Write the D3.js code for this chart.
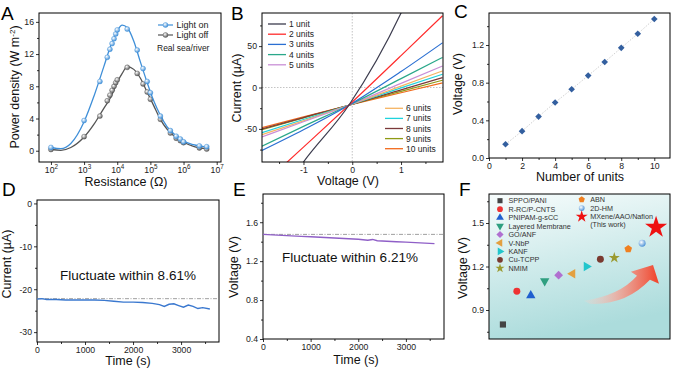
<!DOCTYPE html>
<html>
<head>
<meta charset="utf-8">
<script src="https://cdn.jsdelivr.net/npm/d3@7"></script>
<style>
body { margin: 0; background: #fff; }
svg { display: block; font-family: "Liberation Sans", Arial, sans-serif; }
</style>
</head>
<body>
<div id="chart"></div>
<script>
// ---- A: power density vs load resistance
var resistA = [1e2, 1e3, 3e3, 5e3, 6e3, 7e3, 8e3, 9e3, 1e4, 2e4, 4e4, 6e4, 8e4, 1e5, 2e5, 4e5, 6e5, 8e5, 1e6, 3e6, 5e6];
var powerOn = [0.41, 3.75, 8.6, 11.6, 12.6, 13.3, 13.9, 14.5, 15.0, 15.1, 12.5, 10.2, 8.6, 7.2, 4.3, 2.5, 1.8, 1.45, 1.1, 0.6, 0.5];
var powerOff = [0.15, 1.75, 4.3, 6.2, 6.9, 7.5, 8.0, 8.45, 8.8, 10.35, 9.6, 8.3, 7.3, 6.4, 3.9, 2.2, 1.55, 1.25, 1.0, 0.35, 0.2];
var fitLogR = [2, 2.3, 2.6, 3, 3.3, 3.6, 3.8, 4, 4.15, 4.3, 4.5, 4.7, 4.9, 5.1, 5.3, 5.5, 5.8, 6, 6.3, 6.7];
var fitOn = [0.4, 0.25, 0.9, 3.6, 6.8, 10.5, 13.0, 14.9, 15.6, 15.3, 13.6, 11.0, 8.5, 6.2, 4.4, 3.0, 1.8, 1.2, 0.75, 0.45];
var fitOff = [0.15, 0.05, 0.4, 1.7, 3.3, 5.3, 6.6, 8.5, 9.6, 10.45, 10.1, 9.0, 7.3, 5.6, 3.9, 2.7, 1.55, 1.05, 0.55, 0.25];
var legendA = ["Light on", "Light off"];

// ---- B: I-V curves of stacked units
var unitsB = ["1 unit", "2 units", "3 units", "4 units", "5 units", "6 units", "7 units", "8 units", "9 units", "10 units"];
var colorsB = ["#3c3c4e", "#ff2b2b", "#2a6fd2", "#2aa88a", "#c98fd6", "#f5b463", "#1fd3dc", "#7b3a3a", "#8f9a14", "#f26a1c"];
var voltB = [-1.85, -1, -0.07, 1, 1.85];
var currentB = [
  [-165, -90, -21.4, 90, 210],
  [-118, -72, -21.4, 38.5, 86.7],
  [-76, -51, -21.4, 19.3, 54],
  [-71, -47, -21.4, 10.7, 36.3],
  [-59.7, -41.4, -21.4, 5, 26],
  [-57, -40.4, -21.4, 1.7, 20],
  [-54.5, -38.7, -21.4, -0.5, 16],
  [-50, -36.3, -21.4, -2.8, 12],
  [-51, -36.8, -21.4, -4.6, 8.8],
  [-48.4, -35.5, -21.4, -6.3, 5.6]
];

// ---- C: open-circuit voltage vs number of units
var unitsC = [1, 2, 3, 4, 5, 6, 7, 8, 9, 10];
var voltC = [0.146, 0.285, 0.44, 0.59, 0.73, 0.875, 1.02, 1.17, 1.32, 1.476];

// ---- D: current stability
var timeD = [0, 100, 200, 400, 600, 800, 1000, 1200, 1400, 1600, 1800, 2000, 2200, 2400, 2550, 2650, 2750, 2850, 2950, 3050, 3150, 3250, 3350, 3450, 3600];
var currD = [-22.3, -22.2, -22.4, -22.4, -22.5, -22.5, -22.5, -22.5, -22.6, -22.8, -23.0, -23.0, -23.1, -23.3, -23.6, -24.0, -23.5, -23.4, -23.8, -24.2, -23.7, -24.0, -24.5, -24.3, -24.6];
var refD = -22.2;

// ---- E: voltage stability
var timeE = [0, 200, 400, 600, 800, 1000, 1200, 1400, 1600, 1800, 2000, 2200, 2300, 2400, 2600, 2800, 3000, 3200, 3400, 3600];
var voltE = [1.475, 1.47, 1.465, 1.46, 1.455, 1.45, 1.445, 1.44, 1.435, 1.43, 1.425, 1.415, 1.423, 1.41, 1.405, 1.40, 1.395, 1.39, 1.385, 1.38];
var refE = 1.475;

// ---- F: comparison with reported devices
var labelsF = ["SPPO/PANI", "R-RC/P-CNTS", "PNIPAM-g-sCC", "Layered Membrane", "GO/ANF", "V-NbP", "KANF", "Cu-TCPP", "NMIM", "ABN", "2D-HM", "MXene/AAO/Nafion"];
var voltF = [0.80, 1.03, 1.00, 1.10, 1.14, 1.15, 1.20, 1.25, 1.26, 1.32, 1.36, 1.47];
var colorsF = ["#444444", "#ee3333", "#1f5fcf", "#2f9f80", "#b070d0", "#e3a040", "#22c6cc", "#7a3a30", "#9a9a30", "#f08020", "#5ea2e2", "#ee1111"];
var shapesF = ["square", "circle", "up", "down", "diamond", "left", "right", "circle", "star", "pentagon", "sphere", "star"];

var W = 673, H = 371;
var svg = d3.select("#chart").append("svg").attr("width", W).attr("height", H);
var defs = svg.append("defs");
var plain = function (d) { return String(d); };

function sphereGrad(id, c) {
    var g = defs.append("radialGradient").attr("id", id).attr("cx", "38%").attr("cy", "35%").attr("r", "65%");
    g.append("stop").attr("offset", "0%").attr("stop-color", "#fff");
    g.append("stop").attr("offset", "100%").attr("stop-color", c);
}
sphereGrad("sphOn", "#3f8fd8");
sphereGrad("sphOff", "#5a5a5a");
sphereGrad("sphHM", "#4f93d8");

function clean(sel) {
    sel.select(".domain").remove();
    sel.selectAll("line").attr("stroke", "#000").attr("stroke-width", 0.8);
    sel.selectAll("text").attr("font-size", 8.7).attr("fill", "#222").attr("font-family", null);
}

// frame + outward ticks, Origin style
function axes(g, x, y, o) {
    var xl = x.range()[0], xr = x.range()[1], yb = y.range()[0], yt = y.range()[1];
    if (o.xMinor) g.append("g").attr("transform", "translate(0," + yb + ")")
        .call(d3.axisBottom(x).tickValues(o.xMinor).tickSize(2).tickFormat("")).call(clean);
    if (o.xTicks) g.append("g").attr("class", "xax").attr("transform", "translate(0," + yb + ")")
        .call(d3.axisBottom(x).tickValues(o.xTicks).tickSize(3).tickPadding(o.xPad || 1.5).tickFormat(o.xFmt || plain)).call(clean);
    if (o.yMinor) g.append("g").attr("transform", "translate(" + xl + ",0)")
        .call(d3.axisLeft(y).tickValues(o.yMinor).tickSize(2).tickFormat("")).call(clean);
    g.append("g").attr("transform", "translate(" + xl + ",0)")
        .call(d3.axisLeft(y).tickValues(o.yTicks).tickSize(3).tickPadding(2).tickFormat(o.yFmt || plain)).call(clean);
    g.append("rect").attr("x", xl).attr("y", yt).attr("width", xr - xl).attr("height", yb - yt)
        .attr("fill", "none").attr("stroke", "#000").attr("stroke-width", 1);
}

function yTitle(x, y, txt) {
    return svg.append("text").attr("transform", "translate(" + x + "," + y + ")rotate(-90)")
        .attr("text-anchor", "middle").attr("font-size", 12.5).attr("fill", "#111").text(txt);
}
function xTitle(x, y, txt) {
    return svg.append("text").attr("x", x).attr("y", y).attr("text-anchor", "middle")
        .attr("font-size", 12.5).attr("fill", "#111").text(txt);
}
function panelLabel(x, y, txt) {
    svg.append("text").attr("x", x).attr("y", y).attr("font-size", 19).attr("fill", "#000").text(txt);
}

// ================= A =================
(function () {
    var x = d3.scaleLog().domain([Math.pow(10, 1.64), Math.pow(10, 7.13)]).range([39, 221]);
    var y = d3.scaleLinear().domain([-1.4, 17.1]).range([162, 13]);
    var g = svg.append("g");
    axes(g, x, y, { xTicks: [1e2, 1e3, 1e4, 1e5, 1e6, 1e7], xPad: 1.5, yTicks: [0, 4, 8, 12, 16], yMinor: [2, 6, 10, 14],
        xFmt: function () { return ""; } });
    g.select(".xax").selectAll(".tick text").each(function (d) {
        var t = d3.select(this).text("10");
        t.append("tspan").attr("dy", -3.5).attr("font-size", 6.3).text(Math.round(Math.log10(d)));
    });
    var line = d3.line().x(function (d) { return x(Math.pow(10, d[0])); }).y(function (d) { return y(d[1]); }).curve(d3.curveMonotoneX);
    var series = [[fitOn, powerOn, "#3f8fd8", "url(#sphOn)"], [fitOff, powerOff, "#555", "url(#sphOff)"]];
    series.slice().reverse().forEach(function (s) {
        g.append("path").attr("d", line(fitLogR.map(function (r, i) { return [r, s[0][i]]; })))
            .attr("fill", "none").attr("stroke", s[2]).attr("stroke-width", 1.3);
        g.selectAll(null).data(resistA).enter().append("circle")
            .attr("cx", function (d) { return x(d); }).attr("cy", function (d, i) { return y(s[1][i]); })
            .attr("r", 2.5).attr("fill", s[3]).attr("stroke", s[2]).attr("stroke-width", 0.4);
    });
    legendA.forEach(function (t, i) {
        var yy = 25 + i * 10;
        g.append("line").attr("x1", 158).attr("x2", 173).attr("y1", yy).attr("y2", yy).attr("stroke", series[i][2]).attr("stroke-width", 1.2);
        g.append("circle").attr("cx", 165.5).attr("cy", yy).attr("r", 2.5).attr("fill", series[i][3]).attr("stroke", series[i][2]).attr("stroke-width", 0.4);
        g.append("text").attr("x", 176.5).attr("y", yy + 3.2).attr("font-size", 9).attr("fill", "#222").text(t);
    });
    g.append("text").attr("x", 157).attr("y", 50.5).attr("font-size", 8.5).attr("fill", "#222").text("Real sea/river");
    var yt = yTitle(19, 87, "Power density (W m");
    yt.append("tspan").attr("dy", -4).attr("font-size", 8).text("-2");
    yt.append("tspan").attr("dy", 4).text(")");
    xTitle(126, 186, "Resistance (\u03A9)");
    panelLabel(1, 20, "A");
})();

// ================= B =================
(function () {
    var x = d3.scaleLinear().domain([-1.85, 1.86]).range([262, 443]);
    var y = d3.scaleLinear().domain([-90, 90]).range([162, 13]);
    var g = svg.append("g");
    defs.append("clipPath").attr("id", "clipB").append("rect").attr("x", 262).attr("y", 13).attr("width", 181).attr("height", 149);
    g.append("line").attr("x1", x(0)).attr("x2", x(0)).attr("y1", 13).attr("y2", 162).attr("stroke", "#aaa").attr("stroke-width", 0.7).attr("stroke-dasharray", "1.5,1.5");
    g.append("line").attr("x1", 262).attr("x2", 443).attr("y1", y(0)).attr("y2", y(0)).attr("stroke", "#aaa").attr("stroke-width", 0.7).attr("stroke-dasharray", "1.5,1.5");
    var line = d3.line().x(function (d, i) { return x(voltB[i]); }).y(function (d) { return y(d); }).curve(d3.curveMonotoneX);
    var lg = g.append("g").attr("clip-path", "url(#clipB)");
    currentB.slice().reverse().forEach(function (c, k) {
        var i = currentB.length - 1 - k;
        lg.append("path").attr("d", line(c)).attr("fill", "none").attr("stroke", colorsB[i]).attr("stroke-width", 1.2);
    });
    axes(g, x, y, { xTicks: [-1, 0, 1], xMinor: [-1.5, -0.5, 0.5, 1.5], yTicks: [-50, 0, 50], yMinor: [-75, -25, 25, 75] });
    unitsB.forEach(function (t, i) {
        var lx = i < 5 ? 268 : 385, ly = i < 5 ? 24 + i * 10.2 : 108.3 + (i - 5) * 10.1;
        g.append("line").attr("x1", lx).attr("x2", lx + 18).attr("y1", ly).attr("y2", ly).attr("stroke", colorsB[i]).attr("stroke-width", 1.3);
        g.append("text").attr("x", lx + 21).attr("y", ly + 3).attr("font-size", 8.5).attr("fill", "#222").text(t);
    });
    yTitle(241, 88, "Current (\u00B5A)");
    xTitle(348, 185, "Voltage (V)");
    panelLabel(231, 20, "B");
})();

// ================= C =================
(function () {
    var x = d3.scaleLinear().domain([0, 10.95]).range([489, 670]);
    var y = d3.scaleLinear().domain([0, 1.54]).range([158, 13]);
    var g = svg.append("g");
    axes(g, x, y, { xTicks: [0, 2, 4, 6, 8, 10], xMinor: [1, 3, 5, 7, 9], yTicks: [0, 0.4, 0.8, 1.2], yMinor: [0.2, 0.6, 1.0, 1.4],
        yFmt: d3.format(".1f") });
    g.append("path").attr("d", d3.line().x(function (d) { return x(d); }).y(function (d, i) { return y(voltC[i]); })(unitsC))
        .attr("fill", "none").attr("stroke", "#c4c4c4").attr("stroke-width", 0.8).attr("stroke-dasharray", "1.5,1.5");
    g.selectAll(null).data(unitsC).enter().append("path")
        .attr("d", d3.symbol(d3.symbolSquare, 22))
        .attr("transform", function (d, i) { return "translate(" + x(d) + "," + y(voltC[i]) + ")rotate(45)"; })
        .attr("fill", "#335f9f");
    yTitle(462, 84, "Voltage (V)");
    xTitle(580, 181, "Number of units");
    panelLabel(454, 18, "C");
})();

// ================= D =================
(function () {
    var x = d3.scaleLinear().domain([0, 3790]).range([37, 219]);
    var y = d3.scaleLinear().domain([-32.3, 0.8]).range([342, 200]);
    var g = svg.append("g");
    axes(g, x, y, { xTicks: [0, 1000, 2000, 3000], xMinor: [500, 1500, 2500, 3500], yTicks: [0, -10, -20, -30], yMinor: [-5, -15, -25] });
    g.append("line").attr("x1", 37).attr("x2", 219).attr("y1", y(refD)).attr("y2", y(refD))
        .attr("stroke", "#888").attr("stroke-width", 0.8).attr("stroke-dasharray", "4,1.5,1,1.5");
    g.append("path").attr("d", d3.line().x(function (d) { return x(d); }).y(function (d, i) { return y(currD[i]); })(timeD))
        .attr("fill", "none").attr("stroke", "#3a78cf").attr("stroke-width", 1.4);
    g.append("text").attr("x", 128).attr("y", 280).attr("text-anchor", "middle").attr("font-size", 13.5).attr("fill", "#111").text("Fluctuate within 8.61%");
    yTitle(11, 264, "Current (\u00B5A)");
    xTitle(128, 365, "Time (s)");
    panelLabel(2, 196, "D");
})();

// ================= E =================
(function () {
    var x = d3.scaleLinear().domain([0, 3800]).range([263, 444]);
    var y = d3.scaleLinear().domain([0.4, 1.89]).range([339, 194]);
    var g = svg.append("g");
    axes(g, x, y, { xTicks: [0, 1000, 2000, 3000], xMinor: [500, 1500, 2500, 3500], yTicks: [0.4, 0.8, 1.2, 1.6], yMinor: [0.6, 1.0, 1.4, 1.8],
        yFmt: d3.format(".1f") });
    g.append("line").attr("x1", 263).attr("x2", 444).attr("y1", y(refE)).attr("y2", y(refE))
        .attr("stroke", "#888").attr("stroke-width", 0.8).attr("stroke-dasharray", "4,1.5,1,1.5");
    g.append("path").attr("d", d3.line().x(function (d) { return x(d); }).y(function (d, i) { return y(voltE[i]); })(timeE))
        .attr("fill", "none").attr("stroke", "#8f5fc7").attr("stroke-width", 1.4);
    g.append("text").attr("x", 350).attr("y", 262).attr("text-anchor", "middle").attr("font-size", 13.5).attr("fill", "#111").text("Fluctuate within 6.21%");
    yTitle(238, 267, "Voltage (V)");
    xTitle(356, 364, "Time (s)");
    panelLabel(233, 196, "E");
})();

// ================= F =================
(function () {
    var x = d3.scaleLinear().domain([0, 13]).range([489, 670]);
    var y = d3.scaleLinear().domain([0.7, 1.7]).range([339, 194]);
    var g = svg.append("g");
    var bg = defs.append("linearGradient").attr("id", "bgF").attr("x1", 0).attr("y1", 0).attr("x2", 0.25).attr("y2", 1);
    bg.append("stop").attr("offset", "0%").attr("stop-color", "#f7fcfc");
    bg.append("stop").attr("offset", "100%").attr("stop-color", "#acdcdc");
    g.append("rect").attr("x", 489).attr("y", 194).attr("width", 181).attr("height", 145).attr("fill", "url(#bgF)");
    axes(g, x, y, { yTicks: [0.9, 1.2, 1.5], yMinor: [0.75, 1.05, 1.35, 1.65], yFmt: d3.format(".1f") });

    // decorative arrow, given in data units
    var ar = defs.append("linearGradient").attr("id", "arF").attr("gradientUnits", "userSpaceOnUse")
        .attr("x1", x(6.8)).attr("y1", 0).attr("x2", x(12)).attr("y2", 0);
    ar.append("stop").attr("offset", "0%").attr("stop-color", "#fbd4cc").attr("stop-opacity", 0.2);
    ar.append("stop").attr("offset", "45%").attr("stop-color", "#f6a496").attr("stop-opacity", 0.75);
    ar.append("stop").attr("offset", "100%").attr("stop-color", "#f04a32");
    var p = d3.path();
    p.moveTo(x(6.81), y(0.964));
    p.quadraticCurveTo(x(9.4), y(1.0), x(10.63), y(1.136));
    p.lineTo(x(10.19), y(1.163));
    p.lineTo(x(11.78), y(1.211));
    p.lineTo(x(12.21), y(1.081));
    p.lineTo(x(11.56), y(1.108));
    p.quadraticCurveTo(x(9.8), y(0.93), x(7.24), y(0.943));
    p.closePath();
    g.append("path").attr("d", p.toString()).attr("fill", "url(#arF)");

    function pentagon(r) {
        var pts = d3.range(5).map(function (k) { var a = -Math.PI / 2 + k * 2 * Math.PI / 5; return [r * Math.cos(a), r * Math.sin(a)]; });
        return "M" + pts.join("L") + "Z";
    }
    function marker(sel, shape, c, s) {
        var rot = { up: 0, down: 180, left: -90, right: 90, diamond: 45 };
        if (shape === "sphere") return sel.append("circle").attr("r", Math.sqrt(s / Math.PI)).attr("fill", "url(#sphHM)");
        if (shape === "pentagon") return sel.append("path").attr("d", pentagon(Math.sqrt(s / 2.4))).attr("fill", c);
        var t = shape === "square" || shape === "diamond" ? d3.symbolSquare : shape === "circle" ? d3.symbolCircle : shape === "star" ? d3.symbolStar : d3.symbolTriangle;
        return sel.append("path").attr("d", d3.symbol(t, s)).attr("fill", c).attr("transform", "rotate(" + (rot[shape] || 0) + ")");
    }
    labelsF.forEach(function (t, i) {
        var s = i === 11 ? 150 : 38;
        marker(g.append("g").attr("transform", "translate(" + x(i + 1) + "," + y(voltF[i]) + ")"), shapesF[i], colorsF[i], s);
        var lx = i < 9 ? 500 : 581.7, ly = i < 9 ? 200.7 + i * 8.45 : 199.6 + (i - 9) * 8.5;
        marker(g.append("g").attr("transform", "translate(" + lx + "," + ly + ")"), shapesF[i], colorsF[i], i === 11 ? 45 : 26);
        g.append("text").attr("x", lx + 8.5).attr("y", ly + 2.6).attr("font-size", 7.2).attr("fill", "#333").text(t);
    });
    g.append("text").attr("x", 590.2).attr("y", 227.3).attr("font-size", 7.2).attr("fill", "#333").text("(This work)");
    yTitle(467, 268, "Voltage (V)");
    panelLabel(459, 196, "F");
})();
</script>
</body>
</html>
